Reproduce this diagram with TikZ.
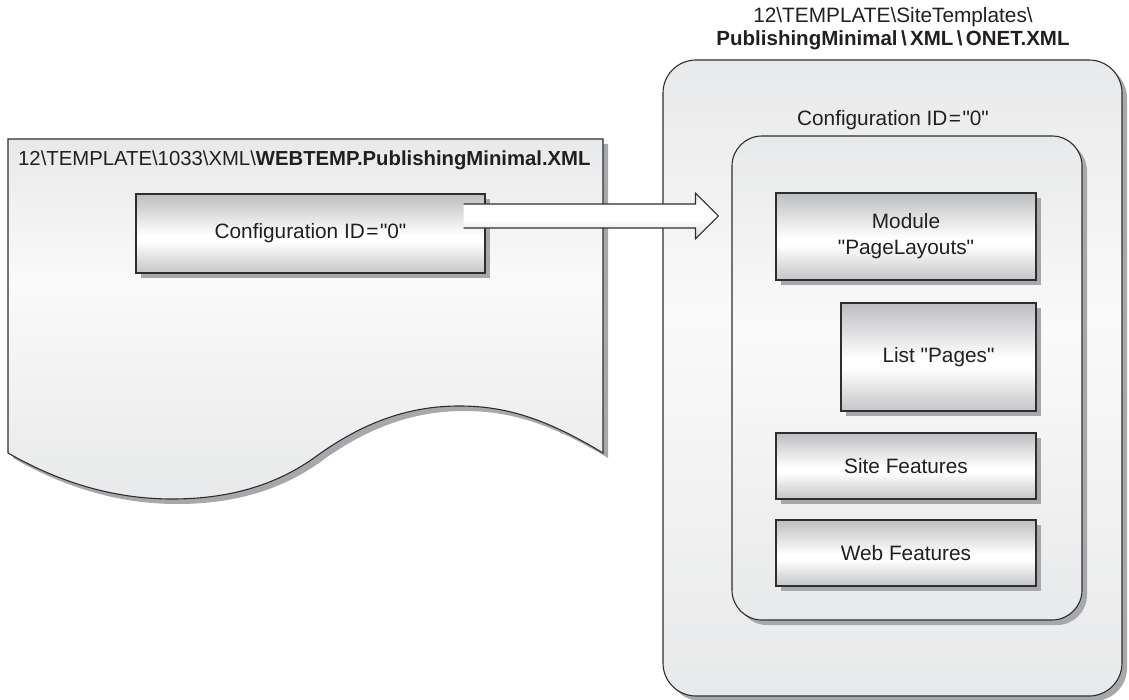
\documentclass[tikz,border=0pt]{standalone}
\usepackage{fontspec}
\setmainfont{Liberation Sans}[Ligatures=TeXOff]
\usetikzlibrary{shadows,calc}
\newcommand{\dq}{\symbol{34}}
\newcommand{\eqsign}{\kern1.5pt=\kern1.5pt}
\definecolor{txt}{HTML}{231F20}
\definecolor{edge}{HTML}{2E2E2E}
\definecolor{shd}{HTML}{A7A8AB}
\definecolor{mT}{HTML}{BDBEC0}
\definecolor{mB}{HTML}{C4C5C7}
\definecolor{pT}{HTML}{E8E9EA}
\definecolor{pM}{HTML}{FAFAFA}
\definecolor{aT}{HTML}{E4E5E6}
\definecolor{aB}{HTML}{D5D6D8}
\pgfdeclareverticalshading{metal}{100bp}{color(0bp)=(mB); color(25bp)=(mB); color(45bp)=(white); color(49bp)=(white); color(75bp)=(mT); color(100bp)=(mT)}
\pgfdeclareverticalshading{paper}{100bp}{color(0bp)=(pT); color(25bp)=(pT); color(55bp)=(pM); color(75bp)=(pT); color(100bp)=(pT)}
\pgfdeclareverticalshading{arrowsh}{100bp}{color(0bp)=(aB); color(25bp)=(aB); color(45bp)=(white); color(60bp)=(white); color(75bp)=(aT); color(100bp)=(aT)}
\tikzset{
  lbl/.style={text=txt, font=\fontsize{20.8}{26}\selectfont, inner sep=0pt},
  sh/.style={drop shadow={shadow xshift=5pt, shadow yshift=-5pt, fill=shd, opacity=1}},
  metalbox/.style={draw=edge, line width=1.1pt, shade, shading=metal, sh, align=center, lbl},
  panel/.style={draw=edge, line width=1.1pt, shade, shading=paper, sh},
  outline/.style={draw=edge, line width=1.1pt},
}
\begin{document}
\begin{tikzpicture}[x=1pt,y=-1pt]
\useasboundingbox (0,0) rectangle (1129,700);

% document (left)
\path[panel] (8,139) -- (603,139) -- (603,453)
  .. controls (545,418) and (505,406) .. (459,406)
  .. controls (405,406) and (360,425) .. (318,455)
  .. controls (275,487) and (225,499) .. (172,499)
  .. controls (110,499) and (55,480) .. (8,453) -- cycle;
\node[lbl, anchor=west, font=\fontsize{20.3}{26}\selectfont] (doctitle) at (18,160) {12\textbackslash TEMPLATE\textbackslash 1033\textbackslash XML\textbackslash\textbf{WEBTEMP.PublishingMinimal.XML}};

\node[metalbox, minimum width=349pt, minimum height=79pt] (cfgL) at (310.5,233.5) {Configuration ID\eqsign\dq0\dq};

% right side
\node[lbl] (ttl1) at (893,17) {12\textbackslash TEMPLATE\textbackslash SiteTemplates\textbackslash};
\node[lbl, font=\fontsize{20.5}{26}\selectfont\bfseries] (ttl2) at (893,40) {PublishingMinimal\,\textbackslash\,XML\,\textbackslash\,ONET.XML};

\node[panel, rounded corners=33pt, minimum width=459pt, minimum height=636pt] (outer) at (892.5,378) {};
\node[lbl] (cfgR) at (893,120) {Configuration ID\eqsign\dq0\dq};
\node[panel, rounded corners=30pt, minimum width=350pt, minimum height=484pt] (inner) at (907,378) {};

\node[metalbox, minimum width=260pt, minimum height=87pt] (module) at (906,236.5) {Module\\\dq PageLayouts\dq};
\node[metalbox, minimum width=195pt, minimum height=108pt] (list) at (938.5,357) {List \dq Pages\dq};
\node[metalbox, minimum width=260pt, minimum height=66pt] (site) at (906,466) {Site Features};
\node[metalbox, minimum width=260pt, minimum height=66pt] (web) at (906,553) {Web Features};

% block arrow
\coordinate (a0) at ($(cfgL.east)+(-22,-17.5)$);
\coordinate (a1) at ($(a0 -| inner.west)+(-13,0)$);
\path[shade, shading=arrowsh] ($(a0)+(0,-12)$) -- ($(a1)+(-23,-12)$) -- ($(a1)+(-23,-23)$) -- (a1)
  -- ($(a1)+(-23,23)$) -- ($(a1)+(-23,12)$) -- ($(a0)+(0,12)$) -- cycle;
\draw[outline, line join=miter] ($(a0)+(0,-12)$) -- ($(a1)+(-23,-12)$) -- ($(a1)+(-23,-23)$) -- (a1)
  -- ($(a1)+(-23,23)$) -- ($(a1)+(-23,12)$) -- ($(a0)+(0,12)$);
\end{tikzpicture}
\end{document}
